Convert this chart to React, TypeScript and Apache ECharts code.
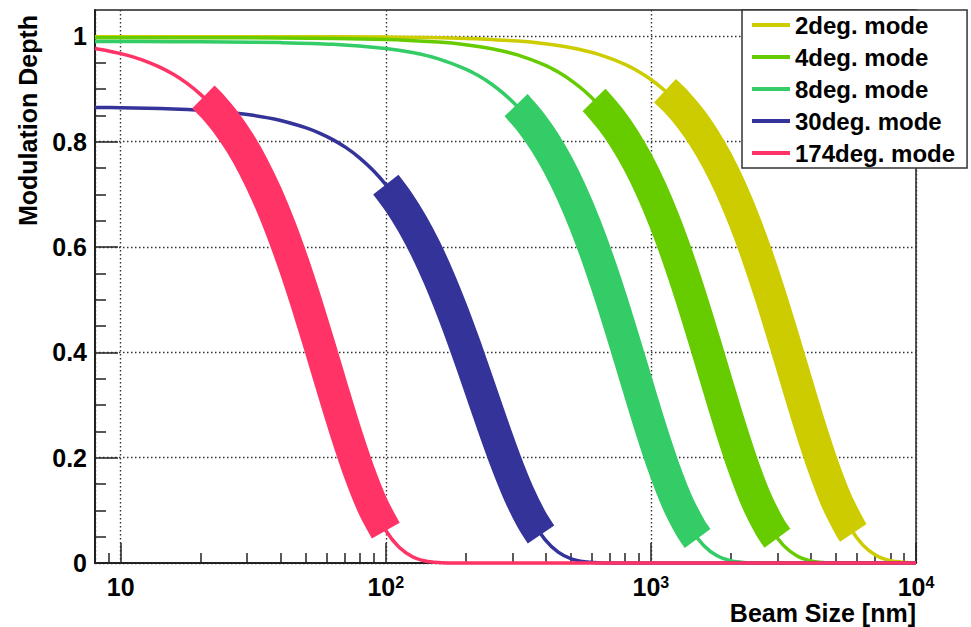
import * as echarts from 'echarts';
import { useEffect, useRef } from 'react';

const FONT = '"Liberation Sans", Arial, Helvetica, sans-serif';

// Mode names (legend order) and colours
const MODES = ['2deg. mode', '4deg. mode', '8deg. mode', '30deg. mode', '174deg. mode'];
const COLORS = ['#cccc00', '#66cc00', '#33cc66', '#333399', '#ff3366'];

// Beam size [nm] / modulation depth
const X_2 = [8, 40, 100, 200, 316, 398, 501, 631, 794, 891, 1000, 1122, 1259, 1413, 1585, 1778, 1995, 2239, 2512, 2818, 3162, 3548, 3981, 4467, 5012, 5623, 6310, 7079, 7943, 8913, 10000];
const Y_2 = [0.9994, 0.9993, 0.9985, 0.996, 0.991, 0.986, 0.9783, 0.9661, 0.9473, 0.9342, 0.918, 0.898, 0.8735, 0.8434, 0.8073, 0.764, 0.7126, 0.6527, 0.5846, 0.509, 0.4273, 0.3429, 0.2599, 0.1834, 0.1182, 0.0681, 0.0339, 0.0141, 0.0047, 0.0012, 0.0002];

const X_4 = [8, 40, 100, 158, 200, 251, 316, 398, 447, 501, 562, 631, 708, 794, 891, 1000, 1122, 1259, 1413, 1585, 1778, 1995, 2239, 2512, 2818, 3162, 3548, 3981, 4467, 5012, 5623, 10000];
const Y_4 = [0.9975, 0.997, 0.9942, 0.9891, 0.9841, 0.9764, 0.9643, 0.9453, 0.9321, 0.916, 0.8961, 0.8713, 0.8413, 0.8052, 0.7617, 0.7102, 0.6504, 0.5822, 0.5062, 0.4248, 0.3408, 0.258, 0.1816, 0.1169, 0.0672, 0.0334, 0.0139, 0.0046, 0.0011, 0.0002, 0, 0];

const X_8 = [8, 15.8, 25.1, 39.8, 63.1, 100, 126, 158, 200, 224, 251, 282, 316, 355, 398, 447, 501, 562, 631, 708, 794, 891, 1000, 1122, 1259, 1413, 1585, 1778, 1995, 2239, 2512, 2818, 10000];
const Y_8 = [0.9902, 0.9899, 0.9894, 0.9881, 0.9849, 0.9769, 0.9692, 0.9573, 0.9379, 0.9251, 0.9091, 0.8889, 0.8647, 0.8346, 0.7987, 0.755, 0.7043, 0.645, 0.5768, 0.5015, 0.4208, 0.3371, 0.2548, 0.1793, 0.1151, 0.0659, 0.0327, 0.0136, 0.0045, 0.0011, 0.0002, 0, 0];

const X_30 = [8, 10, 12.6, 15.8, 20, 25.1, 31.6, 39.8, 50.1, 56.2, 63.1, 70.8, 79.4, 89.1, 100, 112, 126, 141, 158, 178, 200, 224, 251, 282, 316, 355, 398, 447, 501, 562, 631, 708, 794, 10000];
const Y_30 = [0.865, 0.8644, 0.8634, 0.862, 0.8595, 0.8559, 0.85, 0.8407, 0.8263, 0.8164, 0.8039, 0.7886, 0.7698, 0.7466, 0.7184, 0.685, 0.6437, 0.5973, 0.5431, 0.479, 0.4101, 0.3391, 0.2668, 0.1959, 0.134, 0.0822, 0.0449, 0.0207, 0.008, 0.0024, 0.0005, 0.0001, 0, 0];

const X_174 = [8, 8.91, 10, 11.2, 12.6, 14.1, 15.8, 17.8, 20, 22.4, 25.1, 28.2, 31.6, 35.5, 39.8, 44.7, 50.1, 56.2, 63.1, 70.8, 79.4, 89.1, 100, 112, 126, 141, 158, 178, 200, 10000];
const Y_174 = [0.9769, 0.9728, 0.9672, 0.9604, 0.9515, 0.941, 0.9278, 0.9106, 0.8898, 0.8649, 0.8346, 0.7971, 0.7533, 0.7004, 0.6401, 0.5704, 0.4947, 0.4131, 0.3285, 0.2466, 0.1722, 0.1092, 0.0616, 0.0303, 0.012, 0.0039, 0.001, 0.0001, 0, 0];

// Measurable ranges (thick bands): start and end points
const BAND_START = [[1130, 0.8966], [610, 0.8791], [310, 0.8692], [100, 0.7184], [20.5, 0.8848]];
const BAND_END = [[5800, 0.0573], [3000, 0.0469], [1500, 0.0467], [385, 0.0543], [100, 0.0616]];

// Axis ticks
const Y_MAJOR = [0, 0.2, 0.4, 0.6, 0.8, 1];
const Y_MINOR = [0.05, 0.1, 0.15, 0.25, 0.3, 0.35, 0.45, 0.5, 0.55, 0.65, 0.7, 0.75, 0.85, 0.9, 0.95];
const X_MINOR = [9, 20, 30, 40, 50, 60, 70, 80, 90, 200, 300, 400, 500, 600, 700, 800, 900, 2000, 3000, 4000, 5000, 6000, 7000, 8000, 9000];

const XS = [X_2, X_4, X_8, X_30, X_174];
const YS = [Y_2, Y_4, Y_8, Y_30, Y_174];

function pts(xs: number[], ys: number[]) {
  return xs.map((x, i) => [x, ys[i]]);
}
function bandPts(i: number) {
  const s = BAND_START[i];
  const e = BAND_END[i];
  const mid = pts(XS[i], YS[i]).filter((p) => p[0] > s[0] && p[0] < e[0]);
  return [s, ...mid, e];
}

export default function App() {
  const ref = useRef<HTMLDivElement>(null);
  useEffect(() => {
    const chart = echarts.init(ref.current!, null, { renderer: 'svg' });
    const series: any[] = [];
    MODES.forEach((name, i) => {
      series.push({
        name,
        type: 'line',
        data: pts(XS[i], YS[i]),
        symbol: 'none',
        smooth: 0.3,
        clip: false,
        silent: true,
        lineStyle: { color: COLORS[i], width: 3.5 },
        itemStyle: { color: COLORS[i] },
      });
      series.push({
        name: name + ' range',
        type: 'line',
        data: bandPts(i),
        symbol: 'none',
        smooth: 0.3,
        clip: false,
        silent: true,
        lineStyle: { color: COLORS[i], width: 32, cap: 'butt', join: 'round' },
        itemStyle: { color: COLORS[i] },
      });
    });

    const axisColor = '#222';
    const gridLine = { show: true, lineStyle: { color: '#333', width: 1.4, type: [1.5, 2.5] } };

    chart.setOption({
      animation: false,
      backgroundColor: '#fff',
      grid: { left: 95, right: 55, top: 10, bottom: 64, show: true, borderColor: axisColor, borderWidth: 1.5 },
      xAxis: [
        {
          type: 'log',
          logBase: 10,
          min: 8,
          max: 10000,
          position: 'bottom',
          axisLine: { show: true, onZero: false, lineStyle: { color: axisColor, width: 2 } },
          axisTick: { show: true, inside: true, length: 20, lineStyle: { color: axisColor, width: 1.5 } },
          axisLabel: {
            margin: 11,
            showMinLabel: true,
            formatter: (v: number) => {
              const e = Math.log10(v);
              const r = Math.round(e);
              if (Math.abs(e - r) > 1e-6) return '';
              if (r === 1) return '{b|10}';
              return '{b|10}{sup|' + r + '}';
            },
            rich: {
              b: { fontSize: 25, fontWeight: 'bold', fontFamily: FONT, color: '#000', lineHeight: 26 },
              sup: { fontSize: 16, fontWeight: 'bold', fontFamily: FONT, color: '#000', lineHeight: 16, verticalAlign: 'top', padding: [0, 0, 6, 0] },
            },
          },
          splitLine: gridLine,
        },
        {
          type: 'value',
          min: Math.log10(8),
          max: 4,
          position: 'bottom',
          axisLine: { show: false, onZero: false },
          axisLabel: { show: false },
          splitLine: { show: false },
          axisTick: {
            show: true,
            inside: true,
            length: 10,
            customValues: X_MINOR.map((v) => Math.log10(v)),
            lineStyle: { color: axisColor, width: 1.5 },
          },
        },
      ],
      yAxis: [
        {
          type: 'value',
          min: 0,
          max: 1.05,
          position: 'left',
          axisLine: { show: true, onZero: false, lineStyle: { color: axisColor, width: 2 } },
          axisTick: { show: true, inside: true, length: 23, customValues: Y_MAJOR, lineStyle: { color: axisColor, width: 1.5 } },
          axisLabel: { customValues: Y_MAJOR, margin: 8, fontSize: 25, fontWeight: 'bold', fontFamily: FONT, color: '#000' },
          splitLine: gridLine,
        },
        {
          type: 'value',
          min: 0,
          max: 1.05,
          position: 'left',
          axisLine: { show: false, onZero: false },
          axisLabel: { show: false },
          splitLine: { show: false },
          axisTick: { show: true, inside: true, length: 11, customValues: Y_MINOR, lineStyle: { color: axisColor, width: 1.5 } },
        },
      ],
      legend: {
        data: MODES,
        orient: 'vertical',
        left: 742,
        top: 10,
        padding: [3, 12, 3, 10],
        icon: 'rect',
        itemWidth: 38,
        itemHeight: 4,
        itemGap: 8,
        backgroundColor: '#fff',
        borderColor: '#333',
        borderWidth: 1.5,
        selectedMode: false,
        textStyle: { fontSize: 24, fontWeight: 'bold', fontFamily: FONT, color: '#000', lineHeight: 24 },
      },
      graphic: [
        {
          type: 'text',
          x: 916,
          y: 613,
          style: { text: 'Beam Size [nm]', font: 'bold 25px ' + FONT, fill: '#000', align: 'right', verticalAlign: 'middle' },
        },
        {
          type: 'text',
          x: 28,
          y: 15,
          rotation: Math.PI / 2,
          style: { text: 'Modulation Depth', font: 'bold 25px ' + FONT, fill: '#000', align: 'right', verticalAlign: 'middle' },
        },
      ],
      series,
    });
    return () => chart.dispose();
  }, []);
  return <div ref={ref} style={{ position: 'fixed', left: 0, top: 0, width: 971, height: 627, background: '#fff' }} />;
}
